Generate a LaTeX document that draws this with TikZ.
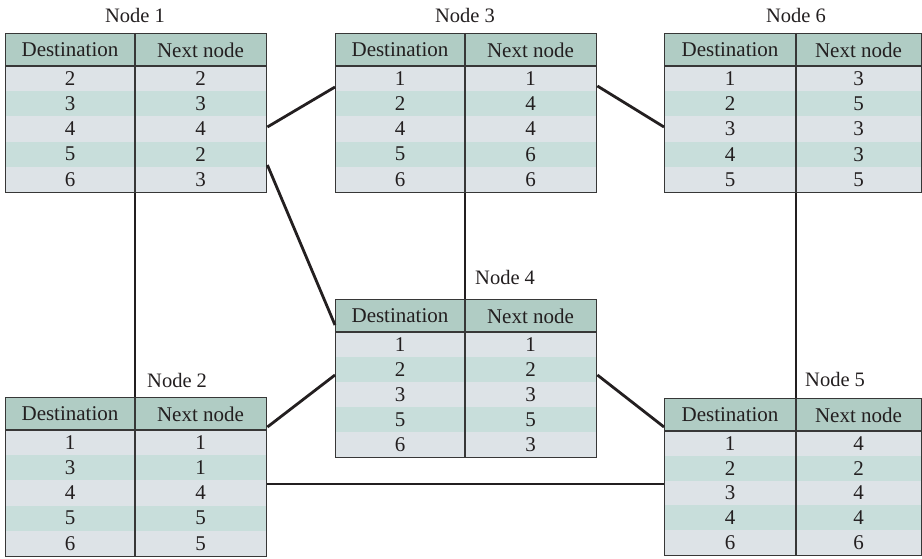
\documentclass[tikz,border=0pt]{standalone}
\usepackage{fontspec}
\setmainfont{Liberation Serif}
\usetikzlibrary{calc}
\definecolor{headfill}{RGB}{176,204,196}
\definecolor{rowlight}{RGB}{221,227,231}
\definecolor{rowgreen}{RGB}{200,222,219}
\definecolor{inkcol}{RGB}{35,31,32}
\definecolor{bordercol}{RGB}{55,55,55}
\tikzset{
  celltext/.style={text=inkcol, font=\fontsize{21}{25}\selectfont, inner sep=0pt},
  nodelabel/.style={text=inkcol, font=\fontsize{20.5}{24}\selectfont, inner sep=0pt},
  tableframe/.style={draw=bordercol, line width=1.4pt, inner sep=0pt},
  linkline/.style={draw=inkcol, line width=2.8pt},
}
% #1 name, #2 left, #3 top, #4 right, #5 divider, #6 bottom, #7 rows
\newcommand\rtable[7]{%
  \fill[headfill] (#2,#3) rectangle (#4,{#3+33});
  \foreach [count=\i] \a/\b in {#7} {%
    \ifodd\i\relax \def\rowcol{rowlight}\else\def\rowcol{rowgreen}\fi
    \fill[\rowcol] (#2,{#3+33+(\i-1)*(#6-#3-33)/5}) rectangle (#4,{#3+33+\i*(#6-#3-33)/5});
    \node[celltext] at ({(#2+#5)/2},{#3+33+(\i-0.5)*(#6-#3-33)/5}) {\a};
    \node[celltext] at ({(#5+#4)/2},{#3+33+(\i-0.5)*(#6-#3-33)/5}) {\b};
  }
  \node[celltext] at ({(#2+#5)/2},{#3+17}) {Destination};
  \node[celltext] at ({(#5+#4)/2},{#3+17}) {Next node};
  \coordinate (#1-mid) at (#5,#3);
  \draw[bordercol, line width=1.4pt] (#5,#3) -- (#5,#6);
  \draw[bordercol, line width=1.4pt] (#2,{#3+33}) -- (#4,{#3+33});
  \node[tableframe, anchor=north west, minimum width={(#4-#2)*1pt}, minimum height={(#6-#3)*1pt}] (#1) at (#2,#3) {};
}
\begin{document}
\begin{tikzpicture}[x=1pt,y=-1pt]
\useasboundingbox (0,0) rectangle (922,559);
\rtable{n1}{5}{33}{266}{135}{192}{2/2,3/3,4/4,5/2,6/3}
\rtable{n3}{335}{33}{596}{465}{192}{1/1,2/4,4/4,5/6,6/6}
\rtable{n6}{664}{33}{921}{796}{192}{1/3,2/5,3/3,4/3,5/5}
\rtable{n4}{335}{299}{596}{465}{457}{1/1,2/2,3/3,5/5,6/3}
\rtable{n2}{5}{397}{266}{135}{556}{1/1,3/1,4/4,5/5,6/5}
\rtable{n5}{664}{398}{921}{796}{555}{1/4,2/2,3/4,4/4,6/6}
\node[nodelabel] (l1) at (135,15) {Node 1};
\node[nodelabel] (l3) at (465,15) {Node 3};
\node[nodelabel] (l6) at (796,15) {Node 6};
\node[nodelabel, anchor=west] (l4) at (475,277) {Node 4};
\node[nodelabel, anchor=west] (l2) at (147,380) {Node 2};
\node[nodelabel, anchor=west] (l5) at (805,379) {Node 5};
% connectors
\draw[linkline] ($(n1.north east)+(0,94)$) -- ($(n3.north west)+(0,54)$);
\draw[linkline] ($(n3.north east)+(0,53)$) -- ($(n6.north west)+(0,94)$);
\draw[linkline] ($(n1.north east)+(0,132)$) -- ($(n4.north west)+(0,26)$);
\draw[linkline] (n1-mid |- n1.south) -- (n1-mid |- n2.north);
\draw[linkline] (n3-mid |- n3.south) -- (n3-mid |- n4.north);
\draw[linkline] (n6-mid |- n6.south) -- (n6-mid |- n5.north);
\draw[linkline] ($(n4.north west)+(0,76)$) -- ($(n2.north east)+(0,30)$);
\draw[linkline] ($(n4.north east)+(0,76)$) -- ($(n5.north west)+(0,29)$);
\draw[linkline] ($(n2.north east)+(0,87)$) -- ($(n5.north west)+(0,86)$);
\end{tikzpicture}
\end{document}
